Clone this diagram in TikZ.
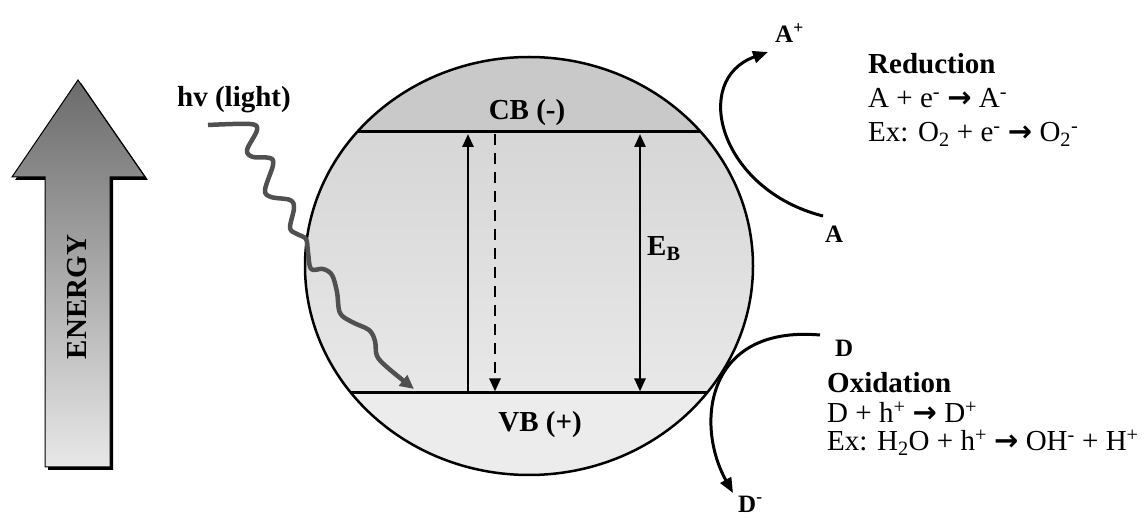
\documentclass[tikz,border=0pt]{standalone}
\usepackage{fontspec}
\setmainfont{Liberation Serif}
\newfontfamily\arrfont{DejaVu Sans}
\usetikzlibrary{arrows.meta,shapes.geometric}
\newcommand{\rarr}{{\arrfont\bfseries →}}
\definecolor{cbgray}{HTML}{C9C9C9}
\definecolor{midtop}{HTML}{D6D6D6}
\definecolor{midbot}{HTML}{E8E8E8}
\definecolor{vbgray}{HTML}{ECECEC}
\definecolor{wavegray}{HTML}{505050}
\begin{document}
\begin{tikzpicture}[x=1pt,y=-1pt,
  lbl/.style={font=\fontsize{29}{34}\selectfont\bfseries, inner sep=0pt},
  txt/.style={font=\fontsize{29}{34}\selectfont, inner sep=0pt, anchor=base west},
  btxt/.style={font=\fontsize{29}{34}\selectfont\bfseries, inner sep=0pt, anchor=base west},
  small/.style={font=\fontsize{25}{30}\selectfont\bfseries, inner sep=0pt, anchor=base west},
  band/.style={line width=3pt},
  vtrans/.style={line width=2.5pt},
  react/.style={line width=3pt, -{Triangle[length=15pt,width=12pt]}},
  wave/.style={line width=4.5pt, draw=wavegray, line join=round, -{Triangle[length=14pt,width=13pt]}}]
\useasboundingbox (0,0) rectangle (1144,518);
\fill[white] (0,0) rectangle (1144,518);

% ENERGY arrow
\fill[black, shift={(3,3)}] (78,80) -- (145,177) -- (110,177) -- (110,467) -- (45,467) -- (45,177) -- (12,177) -- cycle;
\draw[line width=1pt, top color=black!58, bottom color=black!9]
  (78,80) -- (145,177) -- (110,177) -- (110,467) -- (45,467) -- (45,177) -- (12,177) -- cycle;
\node[lbl, rotate=90] (energy) at (77,297) {ENERGY};

% particle
\begin{scope}
  \clip (529,266) ellipse [x radius=224pt, y radius=209pt];
  \fill[cbgray] (290,40) rectangle (770,132);
  \shade[top color=midtop, bottom color=midbot] (290,132) rectangle (770,393);
  \fill[vbgray] (290,393) rectangle (770,490);
  \draw[band] (290,132) -- (770,132);
  \draw[band] (290,393) -- (770,393);
\end{scope}
\node[draw, line width=2.5pt, ellipse, inner sep=0pt, minimum width=448pt, minimum height=418pt] (np) at (529,266) {};

\node[lbl, anchor=base] (cb) at (527,120) {CB (-)};
\node[lbl, anchor=base] (vb) at (540,432) {VB (+)};

\coordinate (c1) at (468,134);
\coordinate (v1) at (468,391.5);
\coordinate (c2) at (495,134);
\coordinate (v2) at (495,391.5);
\coordinate (c3) at (640,134);
\coordinate (v3) at (640,391.5);
\draw[vtrans, -{Triangle[length=13pt,width=11pt]}] (v1) -- (c1);
\draw[vtrans, dash pattern=on 11pt off 8pt, -{Triangle[length=13pt,width=11pt]}] (c2) -- (v2);
\draw[vtrans, {Triangle[length=13pt,width=11pt]}-{Triangle[length=13pt,width=11pt]}] (v3) -- (c3);
\node[btxt] (eb) at (647,256) {E\textsubscript{B}};

% light
\node[btxt] (hv) at (177,107) {hv (light)};
\draw[wave] plot[smooth, tension=0.55] coordinates {(208,125) (250,124) (257,130) (247,150) (253,157) (270,158) (273,165) (265,190) (271,197) (290,200) (294,208) (290,228) (297,234) (306,239) (308,252) (311,269) (323,269) (332,275) (337,292) (340,313) (352,322) (369,330) (375,341) (377,356) (388,368) (414,389)};

% reduction
\coordinate (aS) at (823,216);
\coordinate (aE) at (768,52);
\draw[react] (aS) .. controls (720,190) and (690,80) .. (aE);
\node[small] (aplus) at (775,43) {A\textsuperscript{+}};
\node[small] (a) at (825,243) {A};
\node[btxt] (red) at (868,74) {Reduction};
\node[txt] (red1) at (868,108) {A + e\textsuperscript{-} \rarr{} A\textsuperscript{-}};
\node[txt] (red2) at (868,142) {Ex: O\textsubscript{2} + e\textsuperscript{-} \rarr{} O\textsubscript{2}\textsuperscript{-}};

% oxidation
\coordinate (dS) at (820,335);
\coordinate (dE) at (733,493);
\draw[react] (dS) .. controls (705,325) and (695,425) .. (dE);
\node[small] (d) at (835,357) {D};
\node[small] (dminus) at (738,512) {D\textsuperscript{-}};
\node[btxt] (ox) at (827,393) {Oxidation};
\node[txt] (ox1) at (827,423) {D + h\textsuperscript{+} \rarr{} D\textsuperscript{+}};
\node[txt] (ox2) at (827,451) {Ex: H\textsubscript{2}O + h\textsuperscript{+} \rarr{} OH\textsuperscript{-} + H\textsuperscript{+}};
\end{tikzpicture}
\end{document}
